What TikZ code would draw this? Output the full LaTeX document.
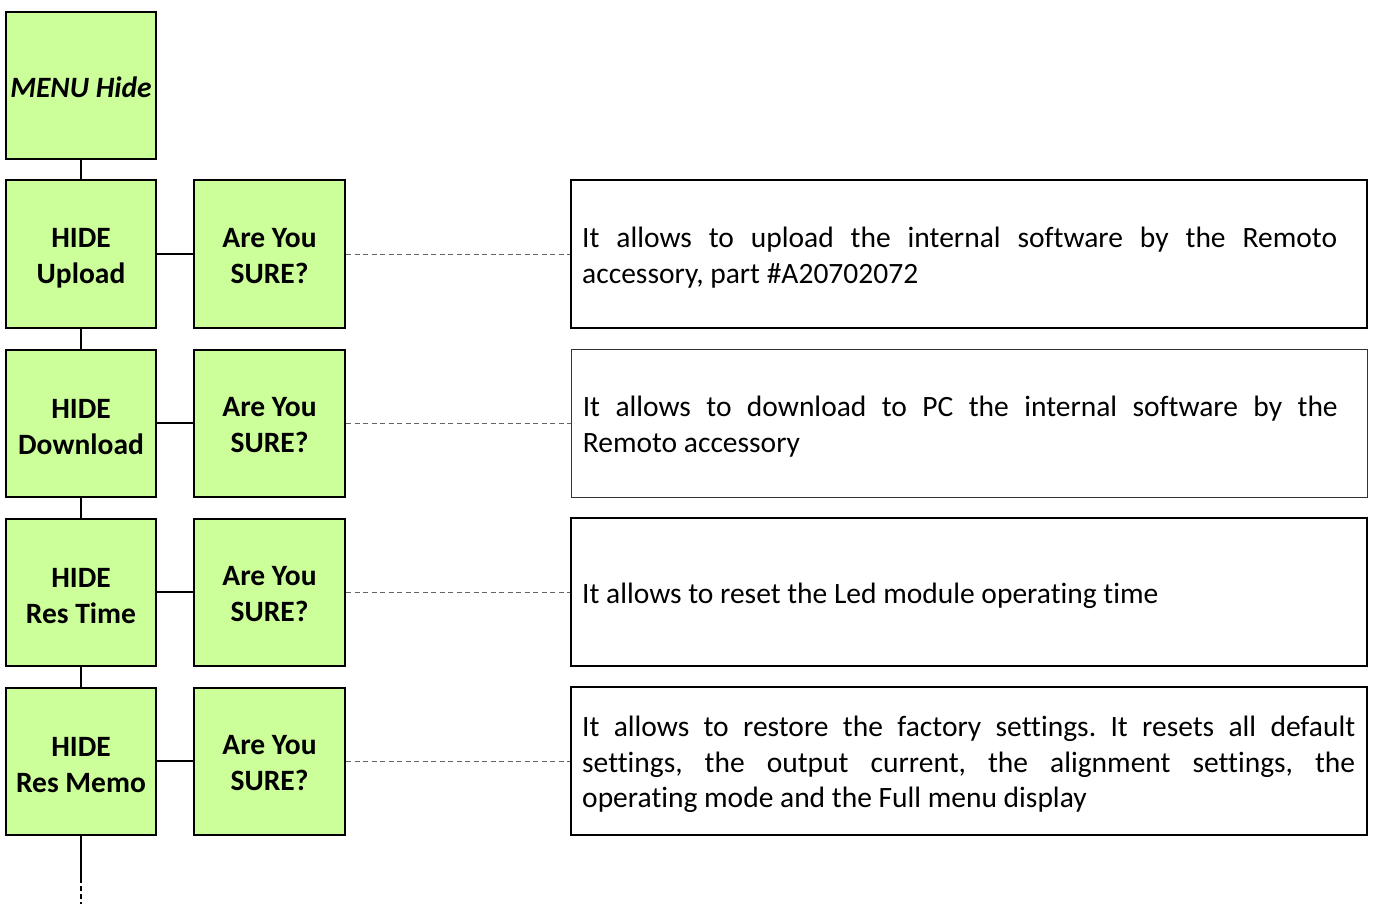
\documentclass[tikz,border=0pt]{standalone}
\usepackage{fontspec}
\setmainfont{Carlito}[Ligatures=NoCommon]
\usetikzlibrary{positioning}
\definecolor{boxgreen}{RGB}{204,255,153}
\definecolor{dashgray}{RGB}{100,100,100}
\frenchspacing
\hyphenpenalty=10000
\exhyphenpenalty=10000
\begin{document}
\begin{tikzpicture}[x=1pt,y=-1pt,
  greenbox/.style={draw=black,line width=2pt,fill=boxgreen,minimum width=150pt,minimum height=147pt,inner sep=0pt},
  greentext/.style={inner sep=0pt,align=center,font=\fontsize{29.5}{36}\selectfont\bfseries},
  descbox/.style={draw=black,line width=2pt,minimum width=796pt,minimum height=148pt,inner sep=0pt},
  desctext/.style={anchor=west,inner sep=0pt,align=justify,font=\fontsize{29.5}{35.5}\selectfont},
  link/.style={draw=black,line width=2pt},
  guide/.style={draw=dashgray,line width=0.9pt,dash pattern=on 5pt off 3.5pt}
]
\useasboundingbox (0,0) rectangle (1374,904);

% menu header
\node[greenbox] (menu) at (81,85.5) {};
\node[greentext,font=\fontsize{29.5}{36}\selectfont\bfseries\itshape] (menulbl) at ([yshift=-2pt]menu) {MENU Hide};

% left column entries
\node[greenbox] (h1) at (81,254) {};
\node[greenbox] (h2) at (81,423) {};
\node[greenbox] (h3) at (81,592) {};
\node[greenbox] (h4) at (81,761) {};
\node[greentext] (h1lbl) at ([yshift=-4pt]h1) {HIDE\\Upload};
\node[greentext] (h2lbl) at ([yshift=-4pt]h2) {HIDE\\Download};
\node[greentext] (h3lbl) at ([yshift=-4pt]h3) {HIDE\\Res Time};
\node[greentext] (h4lbl) at ([yshift=-4pt]h4) {HIDE\\Res Memo};

% confirmation boxes
\foreach \i/\y in {1/254,2/423,3/592,4/761}{
  \node[greenbox,minimum width=151pt] (s\i) at (269.5,\y) {};
  \node[greentext] (s\i lbl) at ([yshift=-2pt]s\i) {Are You\\SURE?};
}

% description boxes
\node[descbox] (d1) at (969,254) {};
\node[descbox,line width=0.8pt,draw=black!80] (d2) at (969,423) {};
\node[descbox] (d3) at (969,592) {};
\node[descbox] (d4) at (969,761) {};

\node[desctext,text width=755pt] (t1) at ([xshift=12pt,yshift=-3.5pt]d1.west)
  {It allows to upload the internal software by the Remoto\linebreak accessory, part \#A20702072};
\node[desctext,text width=755pt] (t2) at ([xshift=12pt,yshift=-3.5pt]d2.west)
  {It allows to download to PC the internal software by the\linebreak Remoto accessory};
\node[desctext,text width=772pt] (t3) at ([xshift=12pt,yshift=-3.5pt]d3.west)
  {It allows to reset the Led module operating time};
\node[desctext,text width=773pt] (t4) at ([xshift=12pt,yshift=-3.5pt]d4.west)
  {It allows to restore the factory settings. It resets all default\linebreak settings, the output current, the alignment settings, the\linebreak operating mode and the Full menu display};

% vertical chain
\path[link] (menu.south) -- (h1.north);
\path[link] (h1.south) -- (h2.north);
\path[link] (h2.south) -- (h3.north);
\path[link] (h3.south) -- (h4.north);
\coordinate (cont) at (81,878);
\coordinate (tail) at (81,904);
\path[link] (h4.south) -- (cont);
\path[draw=black,line width=2pt,dash pattern=on 5pt off 3pt] (cont) -- (tail);

% horizontal links
\foreach \i in {1,...,4}{
  \path[link] (h\i.east) -- (s\i.west);
  \path[guide] (s\i.east) -- (d\i.west);
}
\end{tikzpicture}
\end{document}
